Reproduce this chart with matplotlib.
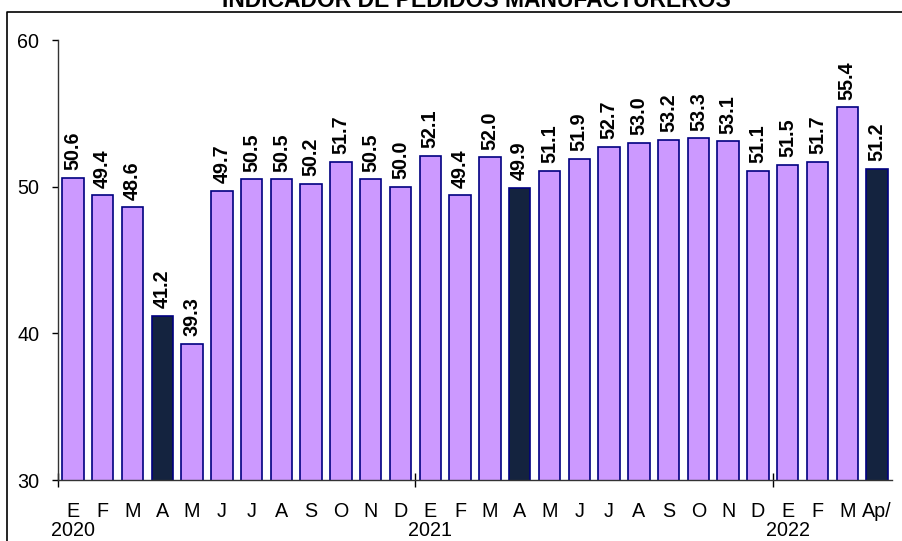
import matplotlib
matplotlib.use("Agg")
import matplotlib.pyplot as plt
from matplotlib.lines import Line2D
import numpy as np

plt.rcParams['font.family'] = ['Liberation Sans', 'DejaVu Sans']

# datos
meses = ['E', 'F', 'M', 'A', 'M', 'J', 'J', 'A', 'S', 'O', 'N', 'D',
         'E', 'F', 'M', 'A', 'M', 'J', 'J', 'A', 'S', 'O', 'N', 'D',
         'E', 'F', 'M', 'Ap/']
valores = [50.6, 49.4, 48.6, 41.2, 39.3, 49.7, 50.5, 50.5, 50.2, 51.7, 50.5, 50.0,
           52.1, 49.4, 52.0, 49.9, 51.1, 51.9, 52.7, 53.0, 53.2, 53.3, 53.1, 51.1,
           51.5, 51.7, 55.4, 51.2]
resaltados = [3, 15, 27]
anios = ['2020', '2021', '2022']
anio_pos = [0, 12, 24]
y_ticks = [30, 40, 50, 60]

W, H = 902, 541
fig = plt.figure(figsize=(W / 100, H / 100), dpi=100)
ax = fig.add_axes([58 / W, (H - 480) / H, (892 - 58) / W, 440 / H])

x = np.arange(len(valores))
colores = ['#14233F' if i in resaltados else '#CC99FF' for i in x]
ax.bar(x, valores, width=0.72, color=colores, edgecolor='#000080', linewidth=1.2)

for xi, v in zip(x, valores):
    ax.annotate('%.1f' % v, xy=(xi, v), xytext=(0, 5.5), textcoords='offset points',
                ha='center', va='bottom', rotation=90, fontsize=14.2, fontweight='bold')

ax.set_xlim(-0.5, len(valores) - 0.5)
ax.set_ylim(30, 60)
ax.set_yticks(y_ticks)
ax.tick_params(axis='y', labelsize=14.2, length=4.5, width=1, pad=9, direction='out')

ax.set_xticks(x)
ax.set_xticklabels(meses, fontsize=14.2)
ax.tick_params(axis='x', length=0, pad=16)
# marcas en el cambio de año
ax.set_xticks([-0.5, 11.5, 23.5], minor=True)
ax.tick_params(axis='x', which='minor', direction='inout', length=9.5, width=1)

for a, p in zip(anios, anio_pos):
    ax.annotate(a, xy=(p, 0), xycoords=('data', 'axes fraction'), xytext=(0, -29.5),
                textcoords='offset points', ha='center', va='top', fontsize=14.2)

for s in ['top', 'right']:
    ax.spines[s].set_visible(False)
for s in ['left', 'bottom']:
    ax.spines[s].set_color('#333333')
    ax.spines[s].set_linewidth(1)

# marco exterior
fig.add_artist(Line2D([7 / W, 7 / W, 1.01], [-0.01, 1 - 12 / H, 1 - 12 / H],
                      transform=fig.transFigure, color='black', linewidth=1.2))

fig.text(476 / W, 1 - 7 / H, 'INDICADOR DE PEDIDOS MANUFACTUREROS', ha='center',
         va='baseline', fontsize=16.5, fontweight='bold')

fig.savefig('out.png', dpi=100)
